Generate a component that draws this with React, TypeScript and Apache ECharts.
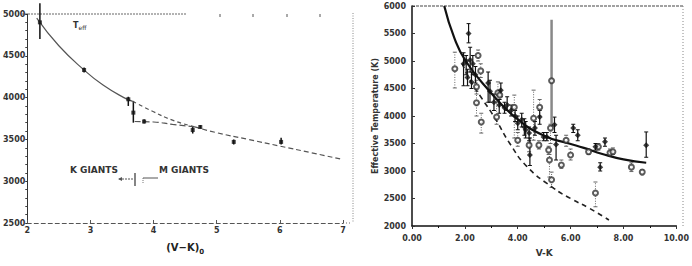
import React, { useEffect, useRef } from "react";
import * as echarts from "echarts";

// ---------- Left panel: Teff vs (V-K)0 ----------
const leftXTicks = [2, 3, 4, 5, 6, 7];
const leftYTicks = [2500, 3000, 3500, 4000, 4500, 5000];
const leftMainCurve = [[2.15, 4950], [2.5, 4620], [2.9, 4330], [3.2, 4150], [3.53, 4000], [3.67, 3955]];
const leftUpperBranch = [[3.67, 3955], [4.0, 3830], [4.3, 3730], [4.65, 3650]];
const leftLowerBranch = [[3.7, 3714], [4.0, 3708], [4.3, 3680], [4.65, 3650]];
const leftTail = [[4.65, 3650], [5.0, 3580], [5.5, 3500], [6.0, 3420], [6.5, 3340], [7.0, 3260]];
// [x, y, lo, hi]
const leftPoints = [
  [2.2, 4900, 4700, 5130],
  [2.9, 4330, 4300, 4360],
  [3.6, 3980, 3900, 4010],
  [3.68, 3820, 3700, 3960],
  [3.85, 3714, 3690, 3740],
  [4.62, 3612, 3570, 3660],
  [4.74, 3648, 3630, 3670],
  [5.27, 3470, 3440, 3500],
  [6.02, 3470, 3440, 3520],
];

// ---------- Right panel: Effective Temperature vs V-K ----------
const rightXTicks = [0, 2, 4, 6, 8, 10];
const rightYTicks = [2000, 2500, 3000, 3500, 4000, 4500, 5000, 5500, 6000];
const rightSolidCurve = [[1.22, 6000], [1.6, 5420], [2.03, 5000], [2.9, 4470], [3.9, 3980], [5.0, 3640], [5.94, 3500], [6.5, 3420], [7.2, 3310], [8.0, 3210], [8.86, 3150]];
const rightDashedCurve = [[1.9, 4950], [2.2, 4650], [2.6, 4350], [3.14, 3960], [3.7, 3500], [4.35, 3080], [5.35, 2690], [6.0, 2500], [6.68, 2330], [7.45, 2110]];
// [x, y, lo, hi]
const rightFilled = [
  [2.14, 5500, 5330, 5680], [1.95, 4950, 4550, 5150], [2.05, 5000, 4750, 5100], [2.2, 5020, 4800, 5250],
  [2.3, 4950, 4750, 5100], [2.25, 4620, 4500, 4800], [2.1, 4700, 4550, 4850], [2.4, 4750, 4600, 4900],
  [2.88, 4600, 4250, 4800], [2.95, 4450, 4250, 4650], [3.1, 4250, 4100, 4400], [3.36, 4470, 4350, 4600],
  [3.3, 4200, 4050, 4300], [3.5, 4150, 4050, 4250], [3.6, 4200, 4100, 4350], [3.75, 4100, 4000, 4200],
  [3.9, 4000, 3900, 4100], [4.0, 3870, 3750, 4000], [4.15, 3930, 3800, 4050], [4.25, 3800, 3650, 3950],
  [4.3, 3750, 3600, 3900], [4.43, 3690, 3550, 3800], [4.46, 3290, 3100, 3600], [4.65, 3780, 3650, 3900],
  [4.83, 3980, 3850, 4100], [4.98, 3620, 3550, 3700], [5.1, 3620, 3550, 3700], [5.39, 3840, 3700, 3980],
  [5.45, 3480, 3200, 3650], [6.1, 3780, 3700, 3850], [6.27, 3650, 3550, 3750], [6.94, 3440, 3380, 3500],
  [7.12, 3070, 3000, 3150], [7.3, 3530, 3450, 3600], [8.86, 3470, 3250, 3710],
];
const rightOpen = [
  [1.62, 4860, 4510, 5160], [2.6, 4820, 4700, 4950], [2.5, 5100, 5000, 5200], [2.44, 4530, 4400, 4650],
  [2.44, 4240, 4000, 4450], [2.62, 3890, 3690, 4050], [3.25, 4420, 4250, 4620], [3.32, 4380, 4300, 4450],
  [3.2, 3980, 3850, 4300], [3.87, 4160, 3600, 4380], [4.0, 3560, 3450, 3700], [4.43, 3470, 3350, 3600],
  [4.6, 3960, 3560, 4470], [4.83, 4160, 4000, 4300], [4.8, 3470, 3400, 3550], [5.17, 3380, 3300, 3450],
  [5.2, 3200, 2890, 3300], [5.28, 2840, 2700, 2980], [5.24, 3780, 3500, 3850], [5.65, 3110, 3050, 3200],
  [5.83, 3560, 3450, 3650], [6.0, 3290, 3200, 3400], [6.68, 3350, 3300, 3400], [6.94, 2600, 2350, 2800],
  [7.05, 3440, 3380, 3500], [7.49, 3330, 3280, 3400], [7.6, 3350, 3300, 3420], [8.3, 3070, 2990, 3150],
  [8.71, 2980, 2950, 3020],
];
const rightOutlier = [[5.28, 4640, 3800, 5750]];

const FONT = "DejaVu Sans";

function errorBars(data: number[][], xi: number, yi: number, color: string, width: number, dash: number[] | null, cap: number) {
  return {
    type: "custom",
    xAxisIndex: xi,
    yAxisIndex: yi,
    silent: true,
    z: 2,
    data,
    encode: { x: 0, y: [1, 2, 3] },
    renderItem: (params: any, api: any) => {
      const x = api.value(0);
      const lo = api.coord([x, api.value(2)]);
      const hi = api.coord([x, api.value(3)]);
      const st: any = { stroke: color, lineWidth: width };
      if (dash) st.lineDash = dash;
      return {
        type: "group",
        children: [
          { type: "line", shape: { x1: lo[0], y1: lo[1], x2: hi[0], y2: hi[1] }, style: st },
          { type: "line", shape: { x1: hi[0] - cap, y1: hi[1], x2: hi[0] + cap, y2: hi[1] }, style: { stroke: color, lineWidth: 1 } },
          { type: "line", shape: { x1: lo[0] - cap, y1: lo[1], x2: lo[0] + cap, y2: lo[1] }, style: { stroke: color, lineWidth: 1 } },
        ],
      };
    },
  };
}

export default function App() {
  const ref = useRef<HTMLDivElement>(null);
  useEffect(() => {
    document.body.style.margin = "0";
    const chart = echarts.init(ref.current!, null, { renderer: "svg" });
    const axisLabelStyle = { fontFamily: FONT, fontSize: 8, color: "#333", fontWeight: "bold" as const };
    const option: any = {
      animation: false,
      backgroundColor: "#fff",
      grid: [
        { left: 22, top: 14, width: 321, height: 209 },
        { left: 412, top: 6, width: 271, height: 220 },
      ],
      xAxis: [
        {
          gridIndex: 0, type: "value", min: leftXTicks[0], max: leftXTicks[leftXTicks.length - 1], interval: 1,
          axisLine: { show: true, lineStyle: { color: "#555", width: 1, type: [4, 3] } },
          axisTick: { show: true, inside: true, length: 3, lineStyle: { color: "#555" } },
          axisLabel: { ...axisLabelStyle, margin: 3, formatter: (v: number) => String(v) },
          splitLine: { show: false },
          name: "{a|(V\u2212K)}{s|0}", nameLocation: "middle", nameGap: 17,
          nameTextStyle: {
            fontFamily: FONT, fontSize: 10, color: "#222",
            rich: {
              a: { fontSize: 10, fontFamily: FONT, color: "#222", fontWeight: "bold" },
              s: { fontSize: 7, padding: [8, 0, 0, 0], fontFamily: FONT, color: "#222", fontWeight: "bold" },
            },
          },
        },
        {
          gridIndex: 1, type: "value", min: rightXTicks[0], max: rightXTicks[rightXTicks.length - 1], interval: 2,
          axisLine: { show: true, lineStyle: { color: "#111", width: 1.5 } },
          axisTick: { show: true, length: 3, lineStyle: { color: "#333" } },
          minorTick: { show: true, splitNumber: 2, length: 2 },
          axisLabel: { ...axisLabelStyle, margin: 8, formatter: (v: number) => v.toFixed(2) },
          splitLine: { show: false },
          name: "V-K", nameLocation: "middle", nameGap: 22,
          nameTextStyle: { fontFamily: FONT, fontSize: 9, fontWeight: "bold", color: "#333" },
        },
      ],
      yAxis: [
        {
          gridIndex: 0, type: "value", min: leftYTicks[0], max: leftYTicks[leftYTicks.length - 1], interval: 500,
          axisLine: { show: true, lineStyle: { color: "#333", width: 1 } },
          axisTick: { show: true, length: 2, lineStyle: { color: "#333" } },
          minorTick: { show: true, splitNumber: 5, length: 2, lineStyle: { color: "#444" } },
          axisLabel: { ...axisLabelStyle, margin: 2, formatter: (v: number) => String(v) },
          splitLine: { show: false },
        },
        {
          gridIndex: 1, type: "value", min: rightYTicks[0], max: rightYTicks[rightYTicks.length - 1], interval: 500,
          axisLine: { show: true, lineStyle: { color: "#111", width: 1.5 } },
          axisTick: { show: true, inside: true, length: 3, lineStyle: { color: "#333" } },
          axisLabel: { ...axisLabelStyle, margin: 6, formatter: (v: number) => String(v) },
          splitLine: { show: false },
          name: "Effective Temperature (K)", nameLocation: "middle", nameGap: 33, nameRotate: 90,
          nameTextStyle: { fontFamily: FONT, fontSize: 8, fontWeight: "bold", color: "#333" },
        },
      ],
      series: [
        // left panel
        { type: "line", xAxisIndex: 0, yAxisIndex: 0, data: leftMainCurve, smooth: true, showSymbol: false, lineStyle: { color: "#555", width: 1.2 }, silent: true },
        { type: "line", xAxisIndex: 0, yAxisIndex: 0, data: leftUpperBranch, smooth: true, showSymbol: false, lineStyle: { color: "#555", width: 1.2, type: [4, 3] }, silent: true },
        { type: "line", xAxisIndex: 0, yAxisIndex: 0, data: leftLowerBranch, smooth: true, showSymbol: false, lineStyle: { color: "#555", width: 1.2, type: [6, 3] }, silent: true },
        { type: "line", xAxisIndex: 0, yAxisIndex: 0, data: leftTail, smooth: true, showSymbol: false, lineStyle: { color: "#555", width: 1.2, type: [5, 3] }, silent: true },
        errorBars(leftPoints, 0, 0, "#111", 1.5, null, 0),
        { type: "scatter", xAxisIndex: 0, yAxisIndex: 0, data: leftPoints, symbol: "rect", symbolSize: 4, itemStyle: { color: "#111" }, z: 3 },
        // right panel
        errorBars(rightOpen, 1, 1, "#666", 1, [1, 1.5], 2),
        errorBars(rightFilled, 1, 1, "#111", 1.2, null, 2),
        errorBars(rightOutlier, 1, 1, "#888", 2.5, null, 0),
        { type: "line", xAxisIndex: 1, yAxisIndex: 1, data: rightSolidCurve, smooth: true, showSymbol: false, lineStyle: { color: "#111", width: 2.2 }, silent: true, z: 4 },
        { type: "line", xAxisIndex: 1, yAxisIndex: 1, data: rightDashedCurve, smooth: true, showSymbol: false, lineStyle: { color: "#222", width: 1.6, type: [5, 4] }, silent: true, z: 4 },
        { type: "scatter", xAxisIndex: 1, yAxisIndex: 1, data: rightOpen.concat(rightOutlier), symbol: "emptyCircle", symbolSize: 5, itemStyle: { color: "#333", borderColor: "#333", borderWidth: 1.3 }, z: 5 },
        { type: "scatter", xAxisIndex: 1, yAxisIndex: 1, data: rightFilled, symbol: "diamond", symbolSize: 6, itemStyle: { color: "#111" }, z: 5 },
      ],
      graphic: [
        // left panel frame details
        { type: "line", shape: { x1: 22, y1: 14, x2: 187, y2: 14 }, style: { stroke: "#666", lineWidth: 1, lineDash: [2, 1] } },
        { type: "line", shape: { x1: 220, y1: 14, x2: 220, y2: 17 }, style: { stroke: "#555", lineWidth: 1 } },
        { type: "line", shape: { x1: 253, y1: 14, x2: 253, y2: 17 }, style: { stroke: "#555", lineWidth: 1 } },
        { type: "line", shape: { x1: 287, y1: 14, x2: 287, y2: 17 }, style: { stroke: "#555", lineWidth: 1 } },
        { type: "line", shape: { x1: 320, y1: 14, x2: 320, y2: 17 }, style: { stroke: "#555", lineWidth: 1 } },
        { type: "text", left: 73, top: 21, style: { text: "T{s|eff}", fontFamily: FONT, fontSize: 8, fontWeight: "bold", fill: "#333", rich: { s: { fontSize: 6, fontFamily: FONT, fill: "#333", padding: [4, 0, 0, 0] } } } },
        { type: "text", left: 70, top: 165, style: { text: "K GIANTS", fontFamily: FONT, fontSize: 9, fontWeight: "bold", fill: "#333" } },
        { type: "text", left: 159, top: 165, style: { text: "M GIANTS", fontFamily: FONT, fontSize: 9, fontWeight: "bold", fill: "#333" } },
        { type: "line", shape: { x1: 135, y1: 173, x2: 135, y2: 186 }, style: { stroke: "#333", lineWidth: 1.2 } },
        { type: "line", shape: { x1: 119, y1: 179, x2: 133, y2: 179 }, style: { stroke: "#555", lineWidth: 1, lineDash: [2, 1] } },
        { type: "polygon", shape: { points: [[118, 179], [122, 177], [122, 181]] }, style: { fill: "#555" } },
        { type: "line", shape: { x1: 143, y1: 178, x2: 158, y2: 178 }, style: { stroke: "#555", lineWidth: 1 } },
        { type: "line", shape: { x1: 143, y1: 178, x2: 143, y2: 184 }, style: { stroke: "#777", lineWidth: 1, lineDash: [1, 1] } },
        // stray dotted line between panels
        { type: "line", shape: { x1: 353, y1: 13, x2: 353, y2: 223 }, style: { stroke: "#888", lineWidth: 1, lineDash: [1, 1.5] } },
        { type: "line", shape: { x1: 343, y1: 223, x2: 350, y2: 223 }, style: { stroke: "#666", lineWidth: 1, lineDash: [1, 2] } },
        // right panel frame
        { type: "line", shape: { x1: 412, y1: 6, x2: 683, y2: 6 }, style: { stroke: "#444", lineWidth: 1.2, lineDash: [3, 1] } },
        { type: "line", shape: { x1: 683, y1: 6, x2: 683, y2: 226 }, style: { stroke: "#888", lineWidth: 1, lineDash: [1, 2] } },
      ],
    };
    chart.setOption(option);
    return () => chart.dispose();
  }, []);
  return <div ref={ref} style={{ width: 692, height: 266 }} />;
}
